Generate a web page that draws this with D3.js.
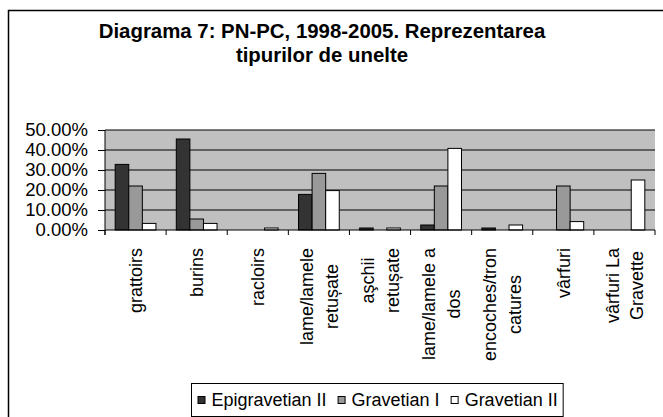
<!DOCTYPE html>
<html lang="en">
<head>
<meta charset="utf-8">
<title>Diagrama 7</title>
<script src="https://d3js.org/d3.v7.min.js"></script>
<style>
  body { margin: 0; background: #fff; }
  svg { display: block; font-family: Arial, "Liberation Sans", sans-serif; }
</style>
</head>
<body>
<script>
// categories and series (percent)
var categories = ["grattoirs", "burins", "racloirs", "lame/lamele\nretușate", "aşchii\nretușate",
                  "lame/lamele a\ndos", "encoches/tron\ncatures", "vârfuri", "vârfuri La\nGravette"];
var seriesNames = ["Epigravetian II", "Gravetian I", "Gravetian II"];
var epigravetianII = [32.8, 45.5, 0, 17.8, 1, 2.5, 1, 0, 0];
var gravetianI     = [22, 5.5, 0, 28.3, 0, 22, 0, 22, 0];
var gravetianII    = [3.3, 3.3, 1, 19.7, 1, 40.8, 2.5, 4.2, 25];
var yTicks = [0, 10, 20, 30, 40, 50];
var colors = ["#333333", "#999999", "#ffffff"];

var W = 663, H = 417;
var pL = 105, pR = 655, pT = 130, pB = 230;

var svg = d3.select("body").append("svg").attr("width", W).attr("height", H);

// outer chart border (right/bottom fall outside the picture)
svg.append("rect").attr("x", 8.5).attr("y", 10.5).attr("width", 700).attr("height", 500)
   .attr("fill", "#fff").attr("stroke", "#000").attr("stroke-width", 1.5);

// title
var title = svg.append("text").attr("text-anchor", "middle").attr("font-weight", "bold")
   .attr("font-size", 20.4).attr("fill", "#000");
title.append("tspan").attr("x", 322).attr("y", 38).text("Diagrama 7: PN-PC, 1998-2005. Reprezentarea");
title.append("tspan").attr("x", 322).attr("y", 62).text("tipurilor de unelte");

var x0 = d3.scaleBand().domain(d3.range(categories.length)).range([pL, pR]);
var x1 = d3.scaleBand().domain(seriesNames).range([0, x0.bandwidth()]).paddingOuter(0.75);
var y = d3.scaleLinear().domain([0, 50]).range([pB, pT]);

// plot area
svg.append("rect").attr("x", pL).attr("y", pT).attr("width", pR - pL).attr("height", pB - pT)
   .attr("fill", "#c0c0c0");

// gridlines
svg.append("g").selectAll("line").data(yTicks.slice(1)).enter().append("line")
   .attr("x1", pL).attr("x2", pR)
   .attr("y1", function(d) { return y(d); }).attr("y2", function(d) { return y(d); })
   .attr("stroke", "#000").attr("stroke-width", 1);

// bars
var data = [epigravetianII, gravetianI, gravetianII];
var groups = svg.append("g").selectAll("g").data(categories).enter().append("g")
   .attr("transform", function(d, i) { return "translate(" + x0(i) + ",0)"; });
groups.selectAll("rect")
   .data(function(d, i) { return seriesNames.map(function(k, j) { return {key: k, j: j, value: data[j][i]}; }); })
   .enter().filter(function(d) { return d.value > 0; }).append("rect")
   .attr("x", function(d) { return x1(d.key); })
   .attr("y", function(d) { return y(d.value); })
   .attr("width", x1.bandwidth())
   .attr("height", function(d) { return pB - y(d.value); })
   .attr("fill", function(d) { return colors[d.j]; })
   .attr("stroke", "#000").attr("stroke-width", 1);

// y axis
var yAxis = svg.append("g").attr("transform", "translate(" + pL + ",0)")
   .call(d3.axisLeft(y).tickValues(yTicks).tickSize(7).tickPadding(10)
         .tickFormat(function(d) { return d.toFixed(2) + "%"; }));
yAxis.select(".domain").attr("d", "M0," + pT + "V" + (pB + 5));
yAxis.selectAll("text").attr("font-size", 18.5).attr("font-family", "Arial, 'Liberation Sans', sans-serif").attr("fill", "#000");

// x axis
var xAxis = svg.append("g").attr("transform", "translate(0," + pB + ")");
xAxis.append("line").attr("x1", pL).attr("x2", pR).attr("stroke", "#000");
xAxis.selectAll("line.tick").data(d3.range(categories.length + 1)).enter().append("line")
   .attr("class", "tick")
   .attr("x1", function(i) { return pL + i * x0.step(); })
   .attr("x2", function(i) { return pL + i * x0.step(); })
   .attr("y1", 0).attr("y2", 5).attr("stroke", "#000");

// category labels, rotated, block right-aligned to the top
var labelTop = 248, lh = 24.5;
categories.forEach(function(c, i) {
  var lines = c.split("\n");
  var cx = x0(i) + x0.bandwidth() / 2;
  var t = svg.append("text").attr("font-size", 18).attr("fill", "#000").attr("text-anchor", "middle")
     .attr("transform", "translate(" + cx + "," + labelTop + ") rotate(-90)");
  var spans = lines.map(function(l) { return t.append("tspan").text(l); });
  var maxW = d3.max(spans, function(s) { return s.node().getComputedTextLength(); });
  spans.forEach(function(s, k) {
    s.attr("x", -maxW / 2).attr("y", (k - (lines.length - 1) / 2) * lh + 6.5);
  });
});

// legend
var legend = svg.append("g").attr("transform", "translate(191,383)");
var lgRect = legend.append("rect").attr("x", 0.5).attr("y", 0.5).attr("height", 33)
   .attr("fill", "#fff").attr("stroke", "#000");
var lx = 6.5;
seriesNames.forEach(function(s, i) {
  legend.append("rect").attr("x", lx + 0.5).attr("y", 13.5).attr("width", 7).attr("height", 7)
     .attr("fill", colors[i]).attr("stroke", "#000");
  var tx = legend.append("text").attr("x", lx + 14).attr("y", 23).attr("font-size", 18).attr("fill", "#000").text(s);
  lx += 14 + tx.node().getComputedTextLength() + 11;
});
lgRect.attr("width", lx - 6);
</script>
</body>
</html>
